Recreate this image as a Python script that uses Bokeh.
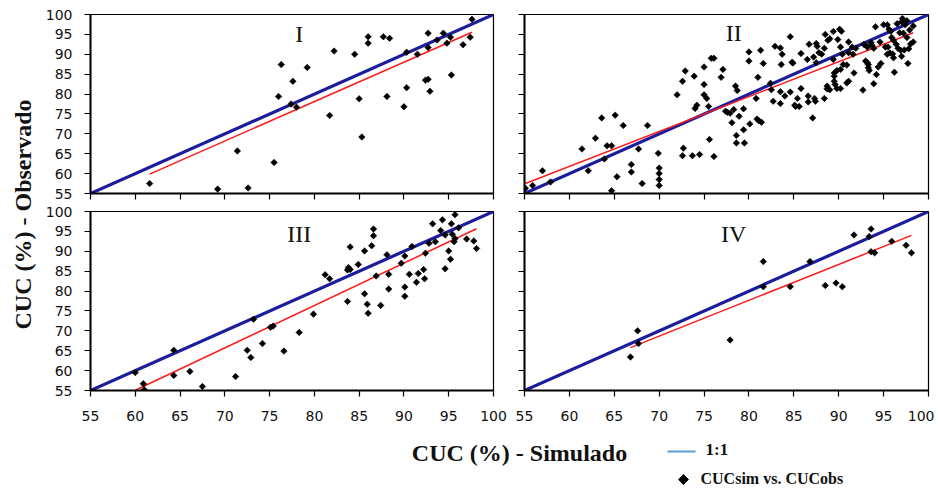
import numpy as np
from bokeh.plotting import figure
from bokeh.layouts import row, column
from bokeh.models import Range1d, FixedTicker, Label
from bokeh.embed import file_html
from bokeh.resources import INLINE

# ---- data: simulated (x) vs observed (y) CUC, %, for the four cases ----
sim_I = [61.6, 69.2, 72.6, 71.4, 75.5, 76.0, 76.3, 77.6, 77.4, 78.0, 79.2, 81.7, 82.2,
         84.5, 85.0, 85.3, 86.0, 86.0, 87.7, 88.4, 88.1, 90.0, 90.3, 90.3, 91.5, 92.4,
         92.7, 92.9, 92.7, 92.7, 93.7, 94.4, 94.8, 95.2, 95.3, 96.6, 97.4, 97.6]
obs_I = [57.5, 56.1, 56.4, 65.7, 62.8, 79.4, 87.4, 83.2, 77.5, 76.7, 86.7, 74.6, 90.8,
         90.0, 78.8, 69.2, 94.4, 92.8, 94.4, 94.0, 79.4, 76.8, 90.5, 81.6, 90.0, 83.5,
         83.7, 80.7, 95.3, 91.7, 93.6, 95.3, 92.8, 94.3, 84.8, 92.4, 94.3, 98.8]

sim_II = [55.1, 55.9, 57.0, 57.9, 61.4, 62.1, 62.9, 63.6, 63.9, 64.2, 64.7, 64.7, 65.1,
          65.3, 66.0, 66.9, 66.9, 67.7, 68.1, 68.7, 69.9, 70.0, 70.0, 70.0, 70.0,
          72.0, 72.6, 72.6, 72.7, 72.9, 73.7, 73.9, 74.0, 74.2, 74.5, 75.0, 75.0, 75.0,
          75.3, 75.5, 75.6, 75.8, 76.1, 76.1, 76.9, 77.1, 77.4, 77.6, 77.9, 78.1, 78.3,
          78.5, 78.7, 78.6, 78.6, 78.9, 79.4, 79.4, 79.5, 80.0, 80.0, 80.1, 80.8, 80.9,
          81.1, 81.4, 81.0, 81.3, 81.6, 82.4, 82.5, 82.7, 82.9, 83.5, 83.6, 83.7, 83.5,
          83.5, 84.0, 84.6, 84.6, 84.8, 84.9, 85.1,
          85.4, 85.2, 85.6, 85.8, 85.8, 86.5, 86.6, 86.6, 86.7, 87.5, 87.6, 87.1, 87.2,
          87.3, 87.4, 87.5, 87.8, 88.1, 88.4, 88.4, 88.5, 88.7, 88.7, 89.0, 88.8, 89.0,
          89.4, 89.4, 89.5, 89.5, 89.5, 89.6, 89.8, 89.8, 90.2, 89.9, 90.1, 90.3, 90.2,
          90.2, 90.4, 90.5, 90.9, 90.9, 91.1, 91.1, 91.1, 91.6, 91.5, 91.9, 91.7, 92.7,
          92.8, 93.1, 93.2, 93.0, 93.2, 93.3, 93.3, 93.4, 93.6, 93.7, 93.9, 93.9, 94.1,
          94.2, 94.4, 94.7, 94.6, 95.0, 95.4, 95.2, 95.5, 95.4, 95.7, 96.0, 95.6, 95.8,
          95.9, 96.1, 96.1, 96.2, 96.4, 96.6, 96.9, 96.5, 97.0, 97.1, 96.8, 97.2, 97.0,
          97.3, 97.4, 97.6, 97.6, 97.7, 97.8, 97.9, 98.0, 98.3, 98.3]
obs_II = [56.3, 57.0, 60.7, 57.9, 66.2, 60.7, 68.9, 74.0, 63.7, 67.0, 67.0, 55.7, 74.7,
          59.2, 72.1, 62.3, 60.4, 66.2, 57.5, 72.1, 65.1, 61.4, 60.0, 58.5, 57.0,
          79.8, 83.2, 64.5, 66.4, 85.8, 64.5, 84.5, 76.4, 77.2, 64.8, 86.8, 82.4, 79.8,
          78.9, 76.9, 68.6, 89.0, 89.0, 64.3, 84.2, 86.2, 75.7, 75.4, 75.2, 72.8, 76.1,
          82.0, 80.9, 69.6, 67.7, 74.4, 76.3, 71.0, 67.7, 90.6, 88.3, 72.5, 78.9, 73.7,
          73.3, 72.9, 84.2, 91.0, 87.7, 82.7, 81.1, 78.2, 92.0, 91.6, 87.4, 90.0, 80.6,
          77.6, 79.5, 94.4, 80.5, 88.0, 87.8, 77.2,
          78.9, 76.9, 76.9, 81.4, 90.2, 88.7, 79.5, 78.0, 92.5, 92.7, 92.0, 74.0, 89.3,
          78.9, 78.2, 87.9, 90.4, 90.0, 91.5, 78.9, 95.0, 82.0, 81.3, 81.1, 93.5, 93.9,
          95.7, 88.7, 85.3, 84.5, 83.2, 82.4, 85.9, 81.4, 81.4, 93.7, 96.3, 95.8, 91.8,
          86.2, 90.0, 87.4, 87.3, 82.8, 83.2, 93.1, 90.4, 90.0, 91.8, 91.5, 85.3, 81.0,
          92.5, 92.0, 91.8, 88.3, 87.9, 87.4, 86.6, 85.9, 92.9, 92.3, 91.5, 82.6, 96.9,
          84.9, 86.8, 87.7, 93.1, 97.4, 97.4, 91.8, 91.8, 90.0, 90.3, 90.1, 96.3, 95.8,
          94.2, 93.5, 89.1, 85.5, 92.5, 91.5, 91.0, 97.7, 98.2, 99.0, 95.4, 95.3, 89.5,
          91.1, 97.4, 98.4, 94.2, 87.7, 91.4, 96.1, 92.6, 97.1, 93.1]

sim_III = [60.0, 60.9, 61.0, 64.3, 64.3, 66.1, 67.5, 71.2, 72.5, 72.9, 73.2, 74.2, 75.1,
           75.4, 76.6, 78.3, 79.9, 81.2, 81.7, 83.7, 83.7, 83.8, 84.0, 84.0, 84.9, 85.6,
           85.6, 85.9, 86.0, 86.4, 86.6, 86.6, 86.9, 87.4, 88.1, 88.3, 88.3, 89.7, 90.1,
           90.1, 90.1, 90.6, 90.9, 91.4, 91.6, 92.2, 92.3, 92.4, 92.8, 93.2, 93.5, 94.1,
           94.3, 94.6, 94.6, 95.0, 95.2, 95.3, 95.4, 95.6, 95.7, 95.7, 96.1, 97.0, 97.8,
           98.1]
obs_III = [59.5, 56.7, 55.2, 65.1, 58.8, 59.8, 56.0, 58.5, 65.1, 63.3, 72.9, 66.8, 70.9,
           71.2, 64.9, 69.6, 74.2, 84.1, 83.1, 77.4, 85.3, 85.9, 85.4, 91.1, 86.7, 90.1,
           79.3, 76.7, 74.4, 91.4, 95.6, 93.9, 83.8, 76.4, 89.1, 84.2, 80.5, 87.0, 88.8,
           81.0, 78.7, 84.2, 91.2, 82.2, 84.4, 85.4, 83.1, 89.5, 92.0, 96.9, 92.4, 95.2,
           97.9, 94.1, 85.6, 90.1, 88.0, 96.9, 94.3, 92.4, 93.2, 99.2, 95.9, 93.1, 92.6,
           90.7]

sim_IV = [66.8, 67.6, 67.7, 77.9, 81.6, 81.6, 84.6, 86.8, 88.5, 89.7, 90.4, 91.7, 93.4,
          93.6, 93.6, 94.0, 95.9, 97.5, 98.1]
obs_IV = [63.4, 70.0, 66.8, 67.7, 87.4, 81.1, 81.1, 87.4, 81.4, 82.0, 81.1, 94.1, 93.7,
          95.6, 89.9, 89.6, 92.5, 91.5, 89.6]

# linear trend of each case: observed = slope * simulated + intercept
trend_slope = [0.99, 0.877, 1.066, 0.901]
trend_intercept = [-1.1, 9.2, -8.9, 5.6]

case_names = ["I", "II", "III", "IV"]
axis_ticks = [55, 60, 65, 70, 75, 80, 85, 90, 95, 100]

BLUE = "#1c1c9c"
SERIF = "Liberation Serif"
SANS = "DejaVu Sans"


def panel(xs, ys, k, left_col, bottom_row):
    p = figure(
        output_backend="svg", toolbar_location=None,
        frame_width=403 if left_col else 404, frame_height=179,
        min_border_left=50 if left_col else 16,
        min_border_right=15 if left_col else 6,
        min_border_top=14 if not bottom_row else 9,
        min_border_bottom=38 if bottom_row else 9,
        x_range=Range1d(55, 100), y_range=Range1d(55, 100),
        background_fill_color="white", border_fill_color="white",
        outline_line_color="black", outline_line_width=1.2,
    )
    p.grid.visible = False
    for ax, show in ((p.xaxis[0], bottom_row), (p.yaxis[0], left_col)):
        ax.ticker = FixedTicker(ticks=axis_ticks)
        ax.minor_tick_line_color = None
        ax.major_tick_in = 0
        ax.major_tick_out = 6
        ax.major_tick_line_color = "black"
        ax.major_tick_line_width = 1.2
        ax.axis_line_color = "black"
        ax.axis_line_width = 2
        ax.major_label_text_font = SANS
        ax.major_label_text_font_size = "14px"
        ax.major_label_text_color = "#111111"
        if not show:
            ax.major_label_overrides = {t: "" for t in axis_ticks}
            ax.major_label_standoff = 0
    p.xaxis.major_label_standoff = 14 if bottom_row else 0
    p.yaxis.major_label_standoff = 12 if left_col else 0

    # 1:1 reference line
    p.line([55, 100], [55, 100], line_color=BLUE, line_width=3.2)
    # linear trend over the range of the simulated values
    tx = np.array([min(xs), max(xs)])
    p.line(tx, trend_slope[k] * tx + trend_intercept[k], line_color="#ff1a1a", line_width=1.5)
    # observations
    p.scatter(xs, ys, marker="square", angle=np.pi / 4, size=4.6,
              fill_color="black", line_color="black", line_width=0.6)

    label_y = [95.0, 95.4, 94.3, 94.3][k]
    p.add_layout(Label(x=78.3, y=label_y, text=case_names[k], text_font=SERIF,
                       text_font_size="24px", text_align="center",
                       text_baseline="middle", text_color="#111111"))
    return p


p1 = panel(sim_I, obs_I, 0, True, False)
p2 = panel(sim_II, obs_II, 1, False, False)
p3 = panel(sim_III, obs_III, 2, True, True)
p4 = panel(sim_IV, obs_IV, 3, False, True)


def blank(w, h):
    f = figure(output_backend="svg", toolbar_location=None, width=w, height=h,
               x_range=Range1d(0, w), y_range=Range1d(h, 0), min_border=0,
               outline_line_color=None, background_fill_color="white",
               border_fill_color="white")
    f.axis.visible = False
    f.grid.visible = False
    return f


# vertical axis title
ytitle = blank(40, 428)
ytitle.add_layout(Label(x=22, y=214, text="CUC (%) - Observado", angle=np.pi / 2,
                        text_font=SERIF, text_font_style="bold", text_font_size="24px",
                        text_align="center", text_baseline="middle", text_color="#111111"))

# horizontal axis title and legend
foot = blank(938, 61)
foot.add_layout(Label(x=519, y=24, text="CUC (%) - Simulado", text_font=SERIF,
                      text_font_style="bold", text_font_size="24px", text_align="center",
                      text_baseline="middle", text_color="#111111"))
foot.line([667, 695], [23, 23], line_color="#5b9bd5", line_width=2)
foot.add_layout(Label(x=705, y=21, text="1:1", text_font=SERIF, text_font_style="bold",
                      text_font_size="17px", text_align="left", text_baseline="middle",
                      text_color="#111111"))
foot.scatter([683], [51], marker="square", angle=np.pi / 4, size=7,
             fill_color="black", line_color="black")
foot.add_layout(Label(x=700, y=50, text="CUCsim vs. CUCobs", text_font=SERIF,
                      text_font_style="bold", text_font_size="16px", text_align="left",
                      text_baseline="middle", text_color="#111111"))

layout = column(
    row(ytitle, column(row(p1, p2), row(p3, p4))),
    foot,
)

open("out.html", "w").write(file_html(layout, INLINE))
